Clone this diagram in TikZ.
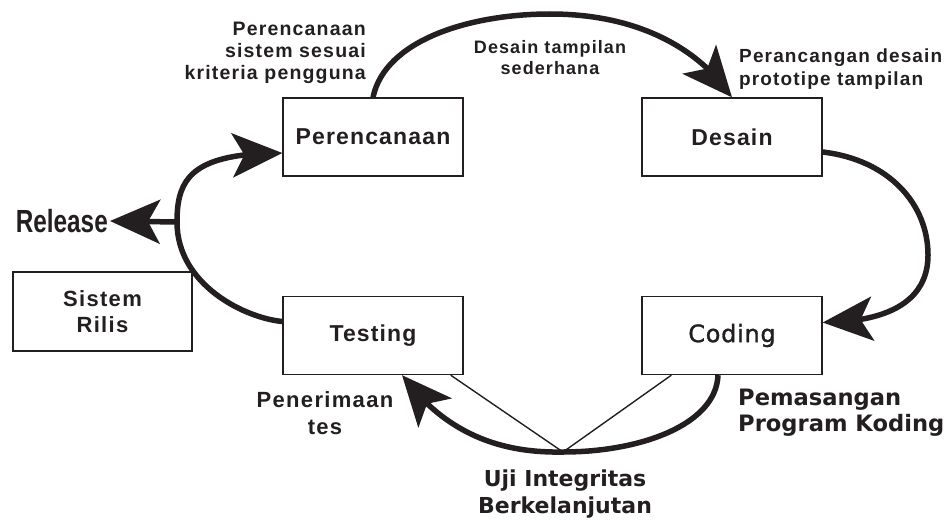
\documentclass[tikz,border=0pt]{standalone}
\usepackage{fontspec}
\setmainfont{Liberation Sans}
\newfontfamily\helv{Liberation Sans}[LetterSpace=6]
\newfontfamily\helvbox{Liberation Sans}[LetterSpace=5]
\newfontfamily\geo{DejaVu Sans}[LetterSpace=3,FakeBold=1.2]
\newfontfamily\geob{DejaVu Sans}[LetterSpace=0]
\newfontfamily\narrow{Liberation Sans}[FakeStretch=0.76]
\usetikzlibrary{arrows.meta,bending,calc}
\definecolor{ink}{HTML}{231F20}
\tikzset{
  stage/.style={draw=ink, line width=1.3pt, minimum width=180pt, minimum height=78pt,
                inner sep=0pt, text=ink, align=center},
  flow/.style={draw=ink, line width=5.5pt,
               -{Stealth[length=50pt,width=44pt,inset=12pt]}},
  thinline/.style={draw=ink, line width=1.4pt},
  note/.style={text=ink, inner sep=0pt},
}
\newcommand{\fs}[2]{\fontsize{#1pt}{#2pt}\selectfont}
\begin{document}
\begin{tikzpicture}[x=1pt,y=-1pt]
\useasboundingbox (0,0) rectangle (952,519);

% process stages
\node[stage, font=\helvbox\bfseries\fs{23}{26}] (plan)   at (373,137) {Perencanaan};
\node[stage, font=\helvbox\bfseries\fs{23}{26}] (design) at (732,137) {Desain};
\node[stage, font=\helvbox\bfseries\fs{23}{26}] (test) at (373,335.5) {Testing};
\node[stage, font=\geo\fs{24}{26}] (code) at (732,335.5) {Coding};
\node[stage, minimum width=179pt, minimum height=79pt,
      font=\helv\bfseries\fs{22}{26}] (rilis) at (102.5,311.5) {Sistem\\Rilis};

% side notes
\node[note, align=right, anchor=east, font=\helv\bfseries\fs{19.5}{22}] (plannote) at (366,53)
  {Perencanaan\\sistem sesuai\\kriteria pengguna};
\node[note, align=center, font=\helv\bfseries\fs{18}{21}] (designnote) at (550,58)
  {Desain tampilan\\sederhana};
\node[note, align=left, anchor=west, font=\helv\bfseries\fs{19}{23}] (protonote) at (739,69)
  {Perancangan desain\\prototipe tampilan};
\node[note, align=center, font=\helv\bfseries\fs{22}{27}] (testnote) at (325,413)
  {Penerimaan\\tes};
\node[note, align=left, anchor=west, font=\geob\bfseries\fs{22.6}{26}] (codenote) at (738,413)
  {Pemasangan\\Program Koding};
\node[note, align=center, font=\geob\bfseries\fs{22}{27}] (ujinote) at (565,494)
  {Uji Integritas\\Berkelanjutan};
\node[note, anchor=east, font=\narrow\bfseries\fs{32}{34}] (release) at (108,221) {Release};

% junction points
\coordinate (meet) at (563,452);
\coordinate (fork) at (177,222);

% the development cycle
\draw[flow] (plan.north) .. controls (385,40) and (470,14) .. (550,14)
  .. controls (640,14) and (700,50) .. (design.north);
\draw[flow] ([yshift=-15pt]design.east) .. controls (890,160) and (928,205) .. (928,255)
  .. controls (928,300) and (890,322) .. ([yshift=13pt]code.east);
\draw[flow] ([xshift=-14pt]code.south) .. controls (716,425) and (640,452) .. (meet)
  .. controls (510,453) and (450,440) .. ([xshift=29pt]test.south);
\draw[flow] ([yshift=14pt]test.west) .. controls (245,318) and (177,285) .. (fork)
  .. controls (177,180) and (190,153) .. ([yshift=-16pt]plan.west);
\draw[flow] (fork) -- ([xshift=2pt]release.east);

% integration links
\draw[thinline] ([xshift=-13pt]test.south east) -- (meet);
\draw[thinline] ([xshift=30pt]code.south west) -- (meet);
\end{tikzpicture}
\end{document}
